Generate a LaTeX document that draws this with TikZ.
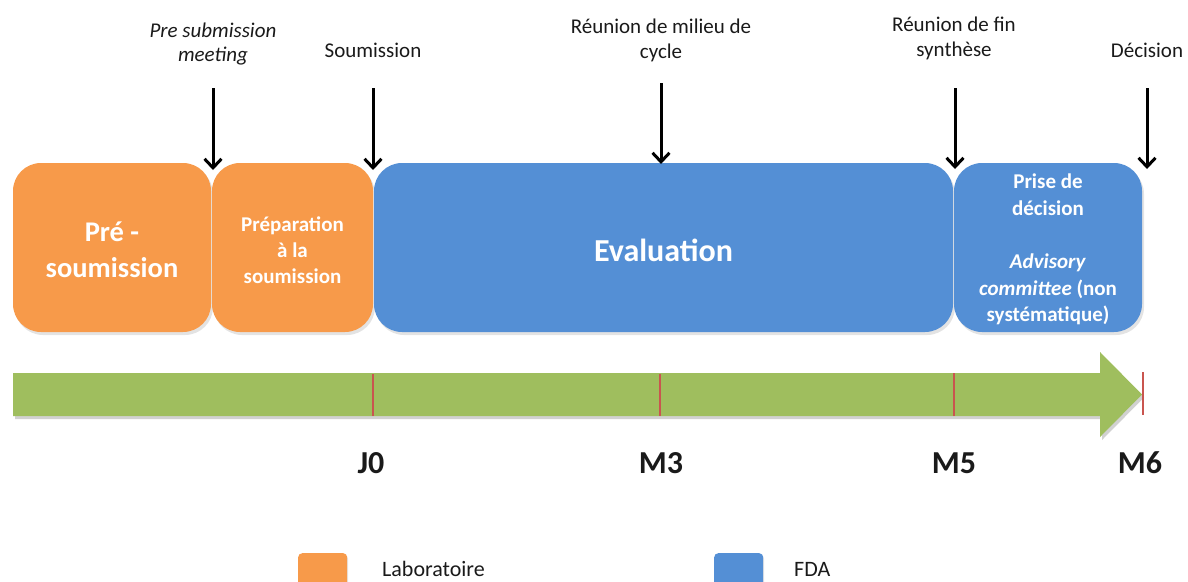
\documentclass[tikz,border=0pt]{standalone}
\usepackage{fontspec}
\setmainfont{Carlito}
\usetikzlibrary{arrows.meta,shadows}
\definecolor{orng}{HTML}{F79A4A}
\definecolor{blu}{HTML}{548FD5}
\definecolor{grn}{HTML}{9FBE5E}
\definecolor{tickred}{HTML}{C9554F}
\definecolor{txt}{HTML}{1A1A1A}
\tikzset{
  phase/.style={rounded corners=28pt, inner sep=0pt, minimum height=169pt,
    drop shadow={shadow xshift=2pt, shadow yshift=-3pt, opacity=0.22}},
  phasetext/.style={align=center, text=white, inner sep=0pt},
  toplabel/.style={align=center, text=txt, font=\fontsize{21}{25}\selectfont, inner sep=0pt},
  milestone/.style={line width=3pt, -{Straight Barb[length=9pt,width=17pt,line width=3pt]}},
  tickmark/.style={line width=2.4pt, draw=tickred},
  timelabel/.style={font=\fontsize{32}{36}\selectfont\bfseries, text=txt, inner sep=0pt},
  legendbox/.style={rounded corners=4pt, minimum width=49pt, minimum height=34pt, inner sep=0pt},
  legendtext/.style={font=\fontsize{22}{26}\selectfont, text=txt, inner sep=0pt, anchor=west}
}
\begin{document}
\begin{tikzpicture}[x=1pt,y=-1pt]
\useasboundingbox (0,0) rectangle (1188,581);

% phase boxes
\node[phase, fill=orng, minimum width=198pt] (pre) at (112,247.5) {};
\node[phase, fill=orng, minimum width=161pt] (prep) at (292.5,247.5) {};
\node[phase, fill=blu, minimum width=579pt] (eval) at (663.5,247.5) {};
\node[phase, fill=blu, minimum width=188pt] (dec) at (1048,247.5) {};

\node[phasetext, font=\fontsize{28.5}{36}\selectfont\bfseries] (pret) at ([yshift=-2pt]pre.center) {Pré -\\soumission};
\node[phasetext, font=\fontsize{21}{26}\selectfont\bfseries] (prept) at ([yshift=-3pt]prep.center) {Préparation\\à la\\soumission};
\node[phasetext, font=\fontsize{32}{38}\selectfont\bfseries] (evalt) at ([yshift=-3pt]eval.center) {Evaluation};
\node[phasetext, font=\fontsize{21}{26.6}\selectfont\bfseries, anchor=north] (dect) at ([yshift=-11pt]dec.north)
  {Prise de\\décision\\[26.6pt]\textit{Advisory}\\\textit{committee} (non\\systématique)};

% top labels
\node[toplabel, font=\fontsize{21}{24}\selectfont\itshape] (lpre) at (213,44) {Pre submission\\meeting};
\node[toplabel] (lsoum) at (373,50) {Soumission};
\node[toplabel] (lmil) at (661,40.5) {Réunion de milieu de\\cycle};
\node[toplabel] (lfin) at (954,38) {Réunion de fin\\synthèse};
\node[toplabel] (ldec) at (1147,50) {Décision};

% milestone arrows
\coordinate (a1s) at (213,88);  \coordinate (a1e) at (213,170);
\coordinate (a2s) at (373,88);  \coordinate (a2e) at (373,170);
\coordinate (a3s) at (661,83);  \coordinate (a3e) at (661,164);
\coordinate (a4s) at (955,88);  \coordinate (a4e) at (955,169);
\coordinate (a5s) at (1147,88); \coordinate (a5e) at (1147,169);
\draw[milestone] (a1s) -- (a1e);
\draw[milestone] (a2s) -- (a2e);
\draw[milestone] (a3s) -- (a3e);
\draw[milestone] (a4s) -- (a4e);
\draw[milestone] (a5s) -- (a5e);

% timeline arrow
\fill[black, opacity=0.18] (15,376) -- (1102,376) -- (1102,355) -- (1144,397.5) -- (1102,440) -- (1102,419) -- (15,419) -- cycle;
\fill[grn] (13,373) -- (1100,373) -- (1100,352) -- (1142,394.5) -- (1100,437) -- (1100,416) -- (13,416) -- cycle;

% ticks
\draw[tickmark] (373,374) -- (373,416);
\draw[tickmark] (660,374) -- (660,416);
\draw[tickmark] (954,373) -- (954,416);
\draw[tickmark] (1143,372) -- (1143,415);

% time labels
\node[timelabel] (j0) at (371,463) {J0};
\node[timelabel] (m3) at (661,463) {M3};
\node[timelabel] (m5) at (954,463) {M5};
\node[timelabel] (m6) at (1140,463) {M6};

% legend
\node[legendbox, fill=orng, anchor=north west, drop shadow={shadow xshift=1pt, shadow yshift=-2pt, opacity=0.2}] (lgo) at (298,553) {};
\node[legendtext] (lgot) at (382,569) {Laboratoire};
\node[legendbox, fill=blu, anchor=north west, drop shadow={shadow xshift=1pt, shadow yshift=-2pt, opacity=0.2}] (lgb) at (714,553) {};
\node[legendtext] (lgbt) at (794,569) {FDA};
\end{tikzpicture}
\end{document}
